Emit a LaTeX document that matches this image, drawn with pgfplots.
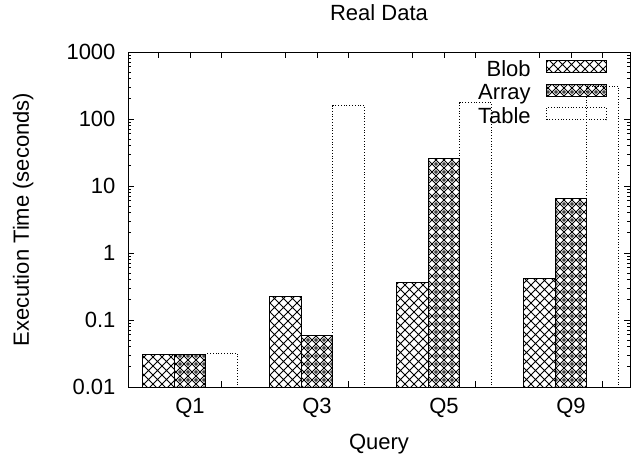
\documentclass[border=0pt]{standalone}
\usepackage{fontspec}
\setmainfont{Liberation Sans}
\usepackage{pgfplots}
\pgfplotsset{compat=1.18}
\usetikzlibrary{patterns}
\pgfdeclarepatternformonly{blobpat}{\pgfqpoint{-1pt}{-1pt}}{\pgfqpoint{10pt}{10pt}}{\pgfqpoint{9pt}{9pt}}{%
  \pgfsetlinewidth{0.8pt}%
  \pgfpathmoveto{\pgfqpoint{0pt}{0pt}}\pgfpathlineto{\pgfqpoint{9pt}{9pt}}%
  \pgfpathmoveto{\pgfqpoint{0pt}{9pt}}\pgfpathlineto{\pgfqpoint{9pt}{0pt}}%
  \pgfusepath{stroke}%
}
\pgfdeclarepatternformonly{arraypat}{\pgfqpoint{-1pt}{-1pt}}{\pgfqpoint{9pt}{9pt}}{\pgfqpoint{8pt}{8pt}}{%
  \pgfsetlinewidth{0.8pt}%
  \pgfpathmoveto{\pgfqpoint{0pt}{4pt}}\pgfpathlineto{\pgfqpoint{4pt}{8pt}}%
  \pgfpathlineto{\pgfqpoint{8pt}{4pt}}\pgfpathlineto{\pgfqpoint{4pt}{0pt}}%
  \pgfpathclose
  \pgfusepath{stroke}%
  \pgfpathcircle{\pgfqpoint{4pt}{4pt}}{1.4pt}%
  \pgfusepath{stroke}%
}
\begin{document}
\begin{tikzpicture}[font=\fontsize{22}{26}\selectfont]
\path[use as bounding box] (0,0) rectangle (637pt,456pt);
\begin{axis}[
  at={(128pt,69pt)}, anchor=south west, scale only axis,
  width=502pt, height=335pt,
  ymode=log, ymin=0.01, ymax=1000, log origin y=infty,
  xmin=-0.488, xmax=3.465,
  xtick={0.25,1.25,2.25,3.25}, xticklabels={Q1,Q3,Q5,Q9},
  xticklabel style={xshift=-31.75pt, yshift=-8pt},
  ytick={0.01,0.1,1,10,100,1000},
  yticklabels={0.01,0.1,1,10,100,1000},
  yticklabel style={xshift=-9pt},
  tick align=inside, major tick length=6pt, minor tick length=3pt,
  axis line style={line width=0.8pt}, every tick/.style={black, line width=0.8pt},
  title={Real Data}, title style={at={(axis description cs:0.5,1.0776)}, anchor=base, inner sep=0pt},
  xlabel={Query}, xlabel style={at={(axis description cs:0.5,-0.188)}, anchor=base, inner sep=0pt},
  ylabel={Execution Time (seconds)}, ylabel style={at={(axis description cs:-0.209,0.5)}, anchor=center, inner sep=0pt},
  legend plot pos=right, legend cell align=right,
  legend style={at={(axis description cs:0.954,0.976)}, anchor=north east, draw=none, fill=none,
    inner sep=0pt, column sep=15pt, row sep=3.5pt,
    nodes={inner sep=0pt, text height=15pt, text depth=4pt}},
]
\addplot[ybar, bar width=0.25, bar shift=0pt, draw=black, line width=1pt,
  pattern=blobpat,
  legend image code/.code={\draw[black, line width=1pt, pattern=blobpat] (0pt,-2pt) rectangle (60pt,10pt);}]
  coordinates {(-0.25,0.031) (0.75,0.223) (1.75,0.36) (2.75,0.42)};
\addlegendentry{Blob}
\addplot[ybar, bar width=0.25, bar shift=0pt, draw=black, line width=1pt,
  pattern=arraypat,
  legend image code/.code={\draw[black, line width=1pt, pattern=arraypat] (0pt,-2pt) rectangle (60pt,10pt);}]
  coordinates {(0,0.031) (1,0.059) (2,25.6) (3,6.6)};
\addlegendentry{Array}
\addplot[ybar, bar width=0.25, bar shift=0pt, draw=black, line width=0.8pt, dotted, fill=none,
  legend image code/.code={\draw[black, line width=0.8pt, dotted] (0pt,-2pt) rectangle (60pt,10pt);}]
  coordinates {(0.25,0.032) (1.25,158) (2.25,175) (3.25,310)};
\addlegendentry{Table}
\end{axis}
\begin{axis}[
  at={(128pt,69pt)}, anchor=south west, scale only axis,
  width=502pt, height=335pt,
  xmin=-0.488, xmax=3.465, ymin=0, ymax=1,
  axis x line*=top, axis y line=none,
  xtick={-0.25,0,0.75,1,1.75,2,2.75,3}, xticklabels={},
  tick align=inside, major tick length=6pt,
  axis line style={draw=none}, every tick/.style={black, line width=0.8pt},
]
\end{axis}
\end{tikzpicture}
\end{document}
